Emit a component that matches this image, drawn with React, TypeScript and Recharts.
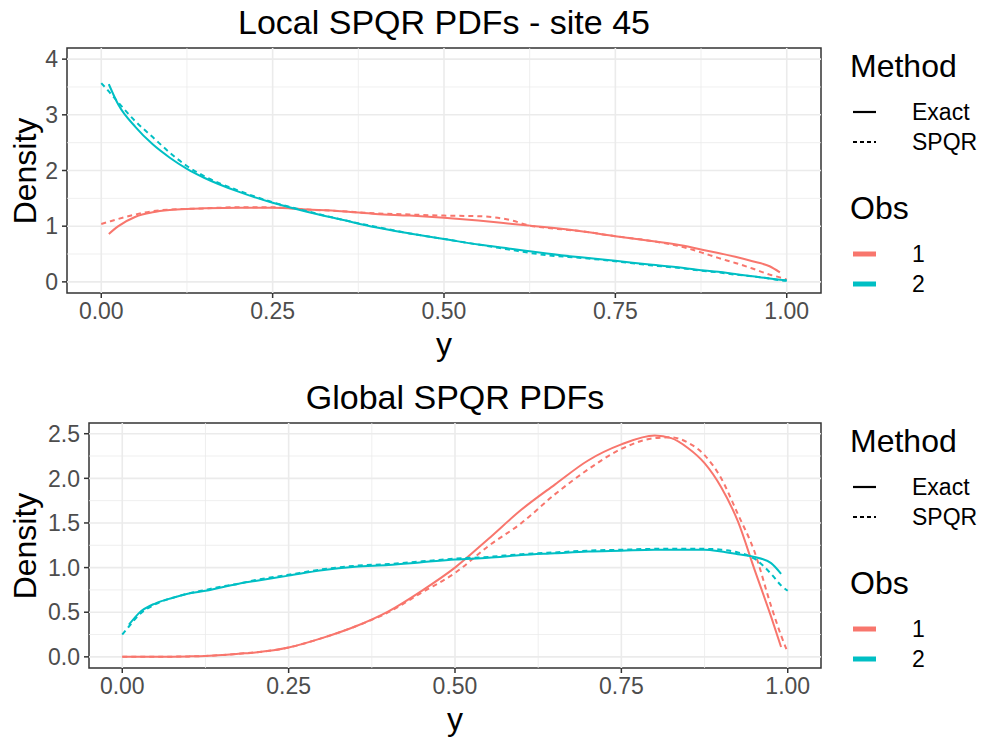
import React from "react";
import { LineChart, Line, XAxis, YAxis, ReferenceLine, ReferenceArea } from "recharts";

const RED = "#F8766D";
const TEAL = "#00BFC4";
const GRID = "#EBEBEB";
const INK = "#333333";
const FONT = "'Liberation Sans', Arial, sans-serif";

// Local panel (site 45): y grid and densities per observation / method
const localY = [0, 0.011, 0.025, 0.05, 0.075, 0.1, 0.125, 0.15, 0.2, 0.25, 0.3, 0.35, 0.4, 0.45, 0.5, 0.55, 0.6, 0.625, 0.65, 0.7, 0.75, 0.8, 0.85, 0.875, 0.9, 0.925, 0.95, 0.975, 0.99, 1.0];
const localExact1 = [null, 0.86, 1.0, 1.17, 1.25, 1.29, 1.31, 1.32, 1.33, 1.33, 1.3, 1.27, 1.22, 1.19, 1.15, 1.1, 1.04, 1.01, 0.98, 0.91, 0.82, 0.74, 0.65, 0.58, 0.52, 0.45, 0.37, 0.28, 0.17, null];
const localSpqr1 = [1.04, 1.08, 1.13, 1.21, 1.27, 1.3, 1.31, 1.32, 1.34, 1.34, 1.3, 1.27, 1.23, 1.21, 1.19, 1.18, 1.1, 1.01, 0.97, 0.91, 0.82, 0.74, 0.62, 0.53, 0.43, 0.34, 0.24, 0.13, 0.08, 0.04];
const localExact2 = [null, 3.55, 3.18, 2.78, 2.47, 2.23, 2.03, 1.87, 1.62, 1.42, 1.26, 1.12, 0.98, 0.87, 0.77, 0.67, 0.59, 0.55, 0.51, 0.44, 0.38, 0.31, 0.25, 0.21, 0.18, 0.14, 0.1, 0.06, 0.04, 0.03];
const localSpqr2 = [3.57, 3.42, 3.22, 2.88, 2.6, 2.32, 2.08, 1.9, 1.64, 1.43, 1.27, 1.12, 0.99, 0.87, 0.77, 0.67, 0.57, 0.52, 0.48, 0.43, 0.37, 0.3, 0.24, 0.2, 0.17, 0.13, 0.1, 0.06, 0.03, 0.02];

// Global panel
const globalY = [0, 0.01, 0.025, 0.05, 0.075, 0.1, 0.125, 0.15, 0.175, 0.2, 0.25, 0.3, 0.35, 0.4, 0.45, 0.5, 0.55, 0.6, 0.65, 0.7, 0.75, 0.8, 0.825, 0.85, 0.875, 0.9, 0.925, 0.95, 0.975, 0.99, 1.0];
const globalExact1 = [0, 0, 0, 0, 0.002, 0.005, 0.01, 0.02, 0.035, 0.05, 0.105, 0.21, 0.34, 0.51, 0.74, 1.0, 1.32, 1.65, 1.93, 2.2, 2.38, 2.48, 2.45, 2.34, 2.17, 1.9, 1.52, 0.98, 0.45, 0.11, null];
const globalSpqr1 = [0, 0, 0, 0, 0.002, 0.005, 0.01, 0.02, 0.035, 0.05, 0.105, 0.21, 0.34, 0.5, 0.72, 0.94, 1.24, 1.5, 1.82, 2.1, 2.33, 2.45, 2.46, 2.4, 2.26, 2.0, 1.6, 1.18, 0.57, 0.24, 0.05];
const globalExact2 = [null, 0.36, 0.49, 0.6, 0.66, 0.71, 0.74, 0.78, 0.82, 0.85, 0.91, 0.97, 1.01, 1.03, 1.06, 1.09, 1.11, 1.14, 1.16, 1.18, 1.19, 1.2, 1.2, 1.2, 1.2, 1.18, 1.15, 1.12, 1.05, 0.93, null];
const globalSpqr2 = [0.25, 0.34, 0.47, 0.59, 0.66, 0.71, 0.75, 0.79, 0.82, 0.86, 0.92, 0.98, 1.02, 1.04, 1.07, 1.1, 1.12, 1.15, 1.17, 1.19, 1.2, 1.21, 1.21, 1.21, 1.21, 1.2, 1.17, 1.1, 0.93, 0.8, 0.74];

const xTicks = [0, 0.25, 0.5, 0.75, 1];
const xMinor = [0.125, 0.375, 0.625, 0.875];
const localTicks = [0, 1, 2, 3, 4];
const localMinor = [0.5, 1.5, 2.5, 3.5];
const globalTicks = [0, 0.5, 1, 1.5, 2, 2.5];
const globalMinor = [0.25, 0.75, 1.25, 1.75, 2.25];

type Row = { y: number; exact1: number | null; spqr1: number | null; exact2: number | null; spqr2: number | null };

const buildRows = (ys: number[], e1: (number | null)[], s1: (number | null)[], e2: (number | null)[], s2: (number | null)[]): Row[] =>
  ys.map((y, i) => ({ y, exact1: e1[i], spqr1: s1[i], exact2: e2[i], spqr2: s2[i] }));

const localRows = buildRows(localY, localExact1, localSpqr1, localExact2, localSpqr2);
const globalRows = buildRows(globalY, globalExact1, globalSpqr1, globalExact2, globalSpqr2);

const PLOT_W = 985;
const PLOT_H = 370;
const MARGIN_TOP = 48;
const MARGIN_RIGHT = 164;
const PANEL_H = 245;

interface PanelProps {
  title: string;
  rows: Row[];
  top: number;
  yAxisWidth: number;
  yDomain: [number, number];
  yTicks: number[];
  yMinor: number[];
  yFormat: (v: number) => string;
}

function Panel({ title, rows, top, yAxisWidth, yDomain, yTicks, yMinor, yFormat }: PanelProps) {
  const plotLeft = yAxisWidth;
  const plotRight = PLOT_W - MARGIN_RIGHT;
  const centerX = (plotLeft + plotRight) / 2;
  const tickStyle = { fill: "#4D4D4D", fontSize: 23, fontFamily: FONT };

  return (
    <div style={{ position: "absolute", left: 0, top, width: PLOT_W, height: PLOT_H }}>
      <div style={{ position: "absolute", left: centerX - 300, width: 600, top: 4, textAlign: "center", fontSize: 34, lineHeight: "36px" }}>
        {title}
      </div>
      <div
        style={{
          position: "absolute",
          left: 25 - 80,
          width: 160,
          top: MARGIN_TOP + PANEL_H / 2 - 18,
          height: 36,
          lineHeight: "36px",
          textAlign: "center",
          fontSize: 32,
          transform: "rotate(-90deg)",
        }}
      >
        Density
      </div>
      <div style={{ position: "absolute", left: centerX - 50, width: 100, top: 326, textAlign: "center", fontSize: 32, lineHeight: "36px" }}>
        y
      </div>
      <LineChart
        width={PLOT_W}
        height={MARGIN_TOP + PANEL_H + 77}
        data={rows}
        margin={{ top: MARGIN_TOP, right: MARGIN_RIGHT, bottom: 0, left: 0 }}
      >
        <XAxis
          dataKey="y"
          type="number"
          domain={[-0.05, 1.05]}
          ticks={xTicks}
          tickFormatter={(v: number) => v.toFixed(2)}
          tick={tickStyle}
          tickLine={{ stroke: INK, strokeWidth: 1.5 }}
          tickSize={5}
          tickMargin={5}
          axisLine={false}
          height={77}
          allowDataOverflow
        />
        <YAxis
          type="number"
          domain={yDomain}
          ticks={yTicks}
          tickFormatter={yFormat}
          tick={tickStyle}
          tickLine={{ stroke: INK, strokeWidth: 1.5 }}
          tickSize={5}
          tickMargin={4}
          axisLine={false}
          width={yAxisWidth}
          allowDataOverflow
        />
        {yMinor.map((v) => (
          <ReferenceLine key={`hm${v}`} y={v} stroke={GRID} strokeWidth={0.8} />
        ))}
        {xMinor.map((v) => (
          <ReferenceLine key={`vm${v}`} x={v} stroke={GRID} strokeWidth={0.8} />
        ))}
        {yTicks.map((v) => (
          <ReferenceLine key={`hM${v}`} y={v} stroke={GRID} strokeWidth={1.6} />
        ))}
        {xTicks.map((v) => (
          <ReferenceLine key={`vM${v}`} x={v} stroke={GRID} strokeWidth={1.6} />
        ))}
        <Line type="monotone" dataKey="exact1" stroke={RED} strokeWidth={2} dot={false} isAnimationActive={false} />
        <Line type="monotone" dataKey="spqr1" stroke={RED} strokeWidth={2} strokeDasharray="5 4" dot={false} isAnimationActive={false} />
        <Line type="monotone" dataKey="exact2" stroke={TEAL} strokeWidth={2} dot={false} isAnimationActive={false} />
        <Line type="monotone" dataKey="spqr2" stroke={TEAL} strokeWidth={2} strokeDasharray="5 4" dot={false} isAnimationActive={false} />
        <ReferenceArea x1={-0.05} x2={1.05} y1={yDomain[0]} y2={yDomain[1]} fill="none" stroke={INK} strokeWidth={1.5} />
      </LineChart>
      <LegendBlock top={MARGIN_TOP + 18} />
    </div>
  );
}

const methodKeys = [
  { label: "Exact", dash: undefined as string | undefined, offset: 46 },
  { label: "SPQR", dash: "4 3", offset: 76 },
];
const obsKeys = [
  { label: "1", color: RED, offset: 188 },
  { label: "2", color: TEAL, offset: 218 },
];

function LegendBlock({ top }: { top: number }) {
  const row = (offset: number): React.CSSProperties => ({
    position: "absolute",
    left: 0,
    top: offset - 15,
    height: 30,
    lineHeight: "30px",
    fontSize: 23,
    whiteSpace: "nowrap",
  });
  return (
    <div style={{ position: "absolute", left: 850, top, width: 135, height: 240 }}>
      <div style={{ position: "absolute", left: 0, top: -18, fontSize: 32, lineHeight: "36px" }}>Method</div>
      {methodKeys.map((k) => (
        <div key={k.label} style={row(k.offset)}>
          <svg width={30} height={30} style={{ position: "absolute", left: 0, top: 0 }}>
            <line x1={3} x2={26} y1={15} y2={15} stroke="#000" strokeWidth={2.2} strokeDasharray={k.dash} />
          </svg>
          <span style={{ position: "absolute", left: 62 }}>{k.label}</span>
        </div>
      ))}
      <div style={{ position: "absolute", left: 0, top: 142 - 18, fontSize: 32, lineHeight: "36px" }}>Obs</div>
      {obsKeys.map((k) => (
        <div key={k.label} style={row(k.offset)}>
          <svg width={30} height={30} style={{ position: "absolute", left: 0, top: 0 }}>
            <line x1={3} x2={26} y1={15} y2={15} stroke={k.color} strokeWidth={5} />
          </svg>
          <span style={{ position: "absolute", left: 62 }}>{k.label}</span>
        </div>
      ))}
    </div>
  );
}

export default function App() {
  return (
    <div style={{ position: "absolute", left: 0, top: 0, width: 985, height: 740, background: "#fff", fontFamily: FONT, color: "#000", overflow: "hidden" }}>
      <Panel
        title="Local SPQR PDFs - site 45"
        rows={localRows}
        top={0}
        yAxisWidth={67}
        yDomain={[-0.2, 4.2]}
        yTicks={localTicks}
        yMinor={localMinor}
        yFormat={(v) => String(v)}
      />
      <Panel
        title="Global SPQR PDFs"
        rows={globalRows}
        top={375}
        yAxisWidth={89}
        yDomain={[-0.125, 2.62]}
        yTicks={globalTicks}
        yMinor={globalMinor}
        yFormat={(v) => v.toFixed(1)}
      />
    </div>
  );
}
